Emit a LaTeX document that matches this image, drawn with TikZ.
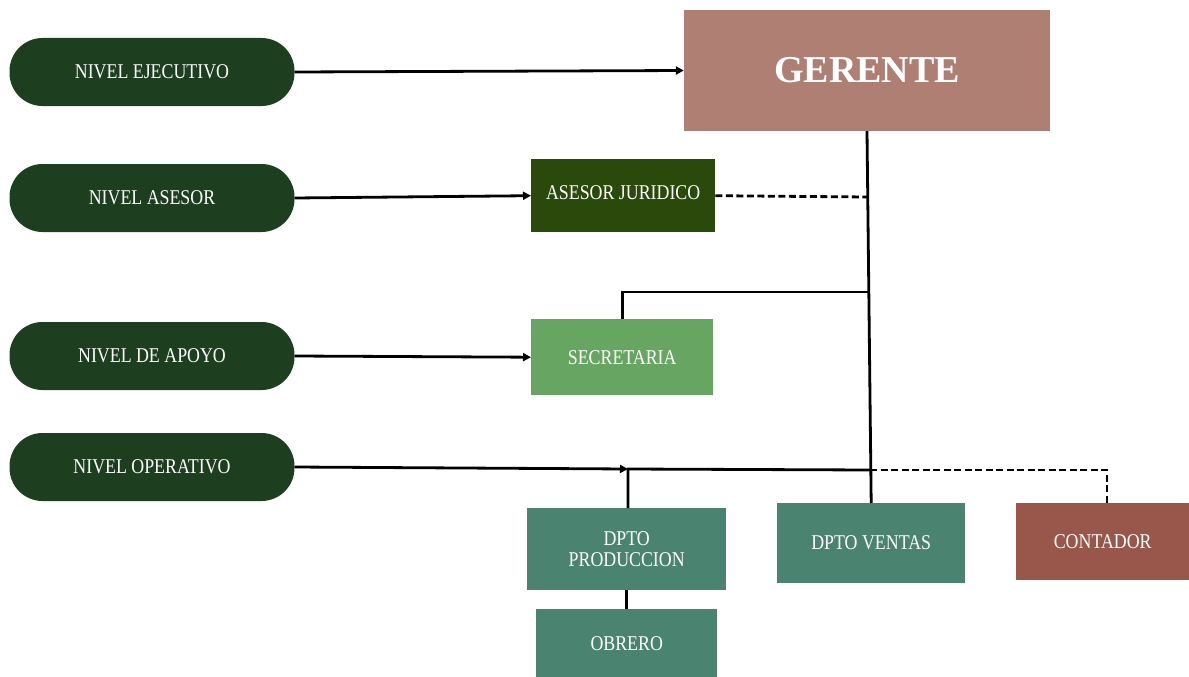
\documentclass[tikz,border=0pt]{standalone}
\usepackage{fontspec}
\setmainfont{Liberation Serif}
\newfontfamily\condfont[FakeStretch=0.85]{Liberation Serif}
\usetikzlibrary{arrows.meta}
\definecolor{pillgreen}{HTML}{1D3F20}
\definecolor{gerente}{HTML}{B07F74}
\definecolor{asesor}{HTML}{2A4A0B}
\definecolor{secre}{HTML}{67A662}
\definecolor{dpto}{HTML}{4A8470}
\definecolor{conta}{HTML}{98574A}
\tikzset{
  pill/.style={fill=pillgreen, rounded corners=33pt, minimum width=285pt, minimum height=68pt, inner sep=0pt, text=white, font=\condfont\fontsize{21}{22}\selectfont},
  box/.style={inner sep=0pt, text=white, align=center, font=\condfont\fontsize{21}{20}\selectfont},
  conn/.style={line width=2.8pt},
  arr/.style={conn, -{Triangle[length=8pt,width=8pt]}},
  dashline/.style={line width=2.8pt, dash pattern=on 7pt off 3.5pt}
}
\begin{document}
\begin{tikzpicture}[x=1pt,y=-1pt]
\useasboundingbox (0,0) rectangle (1189,677);
% left pills
\node[pill] (ej) at (152,72) {NIVEL EJECUTIVO};
\node[pill] (as) at (152,198) {NIVEL ASESOR};
\node[pill] (ap) at (152,356) {NIVEL DE APOYO};
\node[pill] (op) at (152,467) {NIVEL OPERATIVO};
% boxes
\node[box, fill=gerente, minimum width=366pt, minimum height=121pt, font=\bfseries\fontsize{38}{40}\selectfont] (ger) at (867,70.5) {GERENTE};
\node[box, fill=asesor, minimum width=184pt, minimum height=73pt, anchor=north west] (jur) at (531,159) {};
\node[box] at ([yshift=3pt]jur.center) {ASESOR JURIDICO};
\node[box, fill=secre, minimum width=182pt, minimum height=76pt, anchor=north west] (sec) at (531,319) {SECRETARIA};
\node[box, fill=dpto, minimum width=199pt, minimum height=82pt, anchor=north west] (prod) at (527,508) {DPTO\\[1pt]PRODUCCION};
\node[box, fill=dpto, minimum width=188pt, minimum height=80pt, anchor=north west] (ven) at (777,503) {DPTO VENTAS};
\node[box, fill=conta, minimum width=173pt, minimum height=77pt, anchor=north west] (con) at (1016,503) {CONTADOR};
\node[box, fill=dpto, minimum width=181pt, minimum height=68pt, anchor=north west] (obr) at (536,609) {OBRERO};
% junction coordinates
\coordinate (jj) at (867,197);
\coordinate (js) at (869,292);
\coordinate (jo) at (628,469);
\coordinate (jv) at (870,470);
\coordinate (jc) at (1107,470);
% connectors
\draw[arr] (ej.east) -- (ger.west);
\draw[arr] (as.east) -- (jur.west);
\draw[arr] (ap.east) -- (sec.west);
\draw[arr] (op.east) -- (jo);
\draw[conn] (ger.south) -- (ven.north);
\draw[dashline] (jur.east) -- (jj);
\draw[conn] (sec.north) -- (sec.north |- js) -- (js);
\draw[conn] (prod.north -| jo) -- (jo) -- (jv);
\draw[dashline] (jv) -- (jc) -- (con.north -| jc);
\draw[conn] (prod.south) -- (obr.north -| prod.south);
\end{tikzpicture}
\end{document}
